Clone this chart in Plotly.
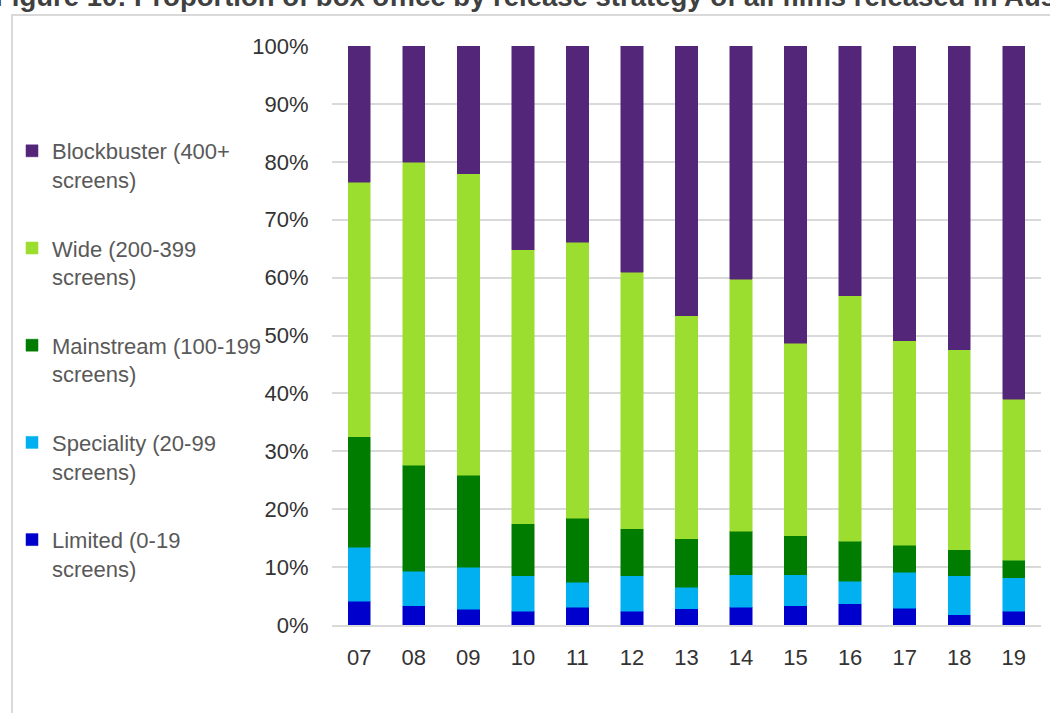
import plotly.graph_objects as go

years = ["07", "08", "09", "10", "11", "12", "13", "14", "15", "16", "17", "18", "19"]

limited = [4.1, 3.3, 2.7, 2.4, 3.1, 2.4, 2.8, 3.1, 3.3, 3.7, 2.9, 1.8, 2.4]
speciality = [9.3, 6.0, 7.3, 6.1, 4.3, 6.1, 3.7, 5.6, 5.4, 3.9, 6.2, 6.7, 5.8]
mainstream = [19.1, 18.3, 15.9, 9.0, 11.0, 8.1, 8.4, 7.5, 6.7, 6.9, 4.7, 4.5, 3.0]
wide = [44.0, 52.3, 52.0, 47.3, 47.7, 44.3, 38.5, 43.5, 33.3, 42.4, 35.3, 34.5, 27.8]
blockbuster = [23.5, 20.1, 22.1, 35.2, 33.9, 39.1, 46.6, 40.3, 51.3, 43.1, 50.9, 52.5, 61.0]

series_names = [
    "Limited (0-19<br>screens)",
    "Speciality (20-99<br>screens)",
    "Mainstream (100-199<br>screens)",
    "Wide (200-399<br>screens)",
    "Blockbuster (400+<br>screens)",
]
series_values = [limited, speciality, mainstream, wide, blockbuster]
series_colors = ["#0000CC", "#00B0F0", "#007D00", "#9CDE2F", "#54267A"]

yticks = [0, 10, 20, 30, 40, 50, 60, 70, 80, 90, 100]
ytick_text = [f"{v}%" for v in yticks]

PW = 709  # plot width in px (for paper-coordinate conversion)
PH = 579

fig = go.Figure()
for i, (name, vals, color) in enumerate(zip(series_names, series_values, series_colors)):
    fig.add_trace(go.Bar(
        x=years, y=vals, name=name, legendgroup=f"g{i}",
        legendrank=len(series_names) - i,
        marker=dict(color=color, line=dict(color=color, width=0.5)),
    ))

fig.update_layout(
    width=1050, height=713,
    barmode="stack", bargap=0.59,
    plot_bgcolor="white", paper_bgcolor="white",
    margin=dict(l=332, r=9, t=46, b=88),
    font=dict(family="Liberation Sans, Arial, sans-serif", size=22, color="#333333"),
    legend=dict(
        x=(12 - 332) / PW, xanchor="left", y=(625 - 130) / PH, yanchor="top",
        traceorder="grouped", tracegroupgap=37, valign="top",
        font=dict(size=22, color="#595959"),
        itemwidth=30, bgcolor="rgba(0,0,0,0)",
    ),
    showlegend=True,
)

fig.update_yaxes(
    range=[0, 100], tickvals=yticks, ticktext=ytick_text,
    showgrid=True, gridcolor="#d9d9d9", gridwidth=1.5,
    ticks="outside", ticklen=18, tickcolor="rgba(0,0,0,0)",
    zeroline=False, showline=False,
)
fig.update_xaxes(
    showline=True, linecolor="#d9d9d9", linewidth=1.5,
    ticks="outside", ticklen=12, tickcolor="rgba(0,0,0,0)",
)

# outer chart frame (light gray border)
fig.add_shape(type="rect", xref="paper", yref="paper",
              x0=(12 - 332) / PW, x1=1.1, y0=-0.3, y1=(625 - 15) / PH,
              line=dict(color="#d9d9d9", width=2), fillcolor="rgba(0,0,0,0)", layer="below")

fig.add_annotation(
    text="<b>Figure 10: Proportion of box office by release strategy of all films released in Australia, 2007–2019</b>",
    xref="paper", yref="paper", x=(-7 - 332) / PW, y=(625 - 14) / PH,
    xanchor="left", yanchor="bottom", showarrow=False,
    font=dict(size=27.5, color="#404040", family="Liberation Sans, Arial, sans-serif"),
)

fig.write_html("out.html", config={"displayModeBar": False},
               post_script="document.body.style.margin='0';")
